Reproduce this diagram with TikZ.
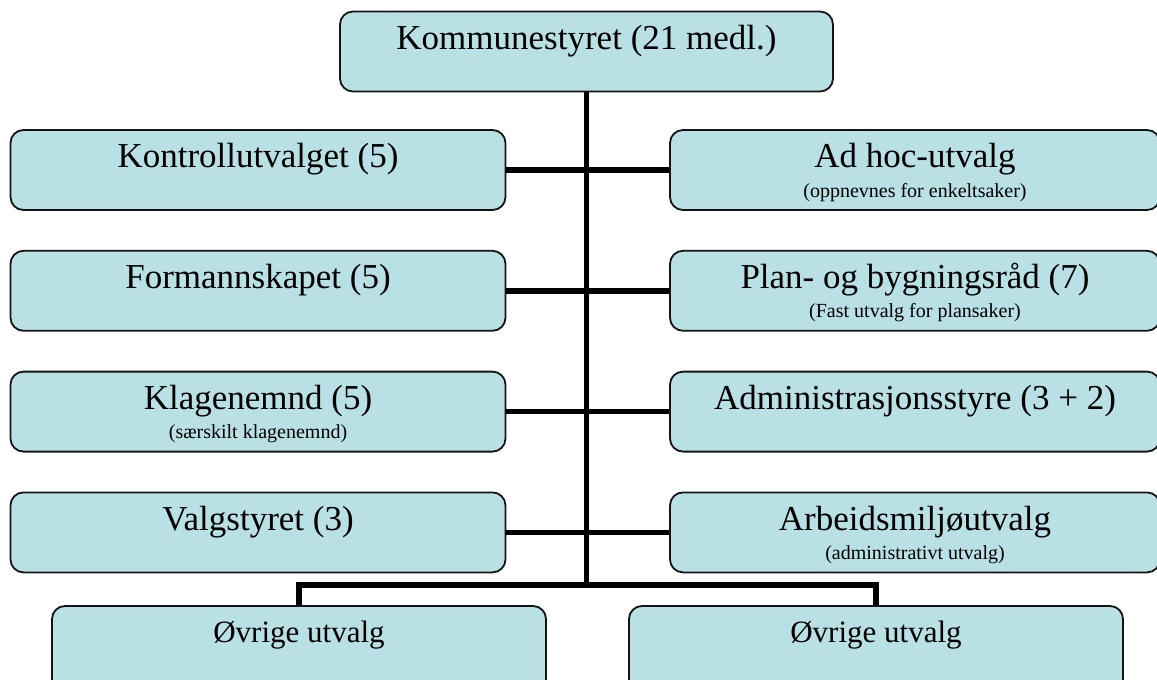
\documentclass[tikz,border=0pt]{standalone}
\usepackage{fontspec}
\setmainfont{Liberation Serif}
\usepackage{tikz}
\usetikzlibrary{positioning}
\definecolor{orgfill}{RGB}{185,224,228}
\definecolor{orgline}{RGB}{20,20,20}
\tikzstyle{orgbox} = [draw=orgline, fill=orgfill, line width=1.8bp, rounded corners=13bp, inner sep=0pt, minimum height=80bp, text height=38bp, text depth=42bp, font=\fontsize{35bp}{40bp}\selectfont]
\tikzstyle{leftbox} = [orgbox, minimum width=495bp]
\tikzstyle{rightbox} = [orgbox, minimum width=490bp]
\tikzstyle{lowbox} = [orgbox, minimum width=494bp, minimum height=100bp, text height=36bp, text depth=64bp, font=\fontsize{31bp}{36bp}\selectfont]
\tikzstyle{subtxt} = [anchor=base, inner sep=0pt, font=\fontsize{20bp}{24bp}\selectfont]
\tikzstyle{link} = [line width=5.5bp, color=black]

\begin{document}
\begin{tikzpicture}[x=1bp, y=-1bp]
\useasboundingbox (0,0) rectangle (1157,680);
% Top
\node[orgbox, minimum width=493bp] (kstyre) at (586.5,51.5) {Kommunestyret (21 medl.)};

% Left column
\node[leftbox] (kontroll) at (258,170) {Kontrollutvalget (5)};
\node[leftbox, below=39bp of kontroll] (formann) {Formannskapet (5)};
\node[leftbox, below=39bp of formann] (klage) {Klagenemnd (5)};
\node[subtxt] (klagesub) at ([yshift=-29bp]klage.base) {(særskilt klagenemnd)};
\node[leftbox, below=39bp of klage] (valg) {Valgstyret (3)};

% Right column
\node[rightbox] (adhoc) at (915,170) {Ad hoc-utvalg};
\node[subtxt] (adhocsub) at ([yshift=-29bp]adhoc.base) {(oppnevnes for enkeltsaker)};
\node[rightbox, below=39bp of adhoc] (plan) {Plan- og bygningsråd (7)};
\node[subtxt] (plansub) at ([yshift=-29bp]plan.base) {(Fast utvalg for plansaker)};
\node[rightbox, below=39bp of plan] (admin) {Administrasjonsstyre (3 + 2)};
\node[rightbox, below=39bp of admin] (amu) {Arbeidsmiljøutvalg};
\node[subtxt] (amusub) at ([yshift=-29bp]amu.base) {(administrativt utvalg)};

% Bottom row
\node[lowbox] (ovrigA) at (299,656) {Øvrige utvalg};
\node[lowbox] (ovrigB) at (876,656) {Øvrige utvalg};

% Connectors
\coordinate (fork) at (586.5,585);
\draw[link] (kstyre.south) -- (fork);
\draw[link] (kontroll.east) -- (adhoc.west);
\draw[link] (formann.east) -- (plan.west);
\draw[link] (klage.east) -- (admin.west);
\draw[link] (valg.east) -- (amu.west);
\draw[link] (ovrigA.north) |- (fork) -| (ovrigB.north);
\end{tikzpicture}
\end{document}
